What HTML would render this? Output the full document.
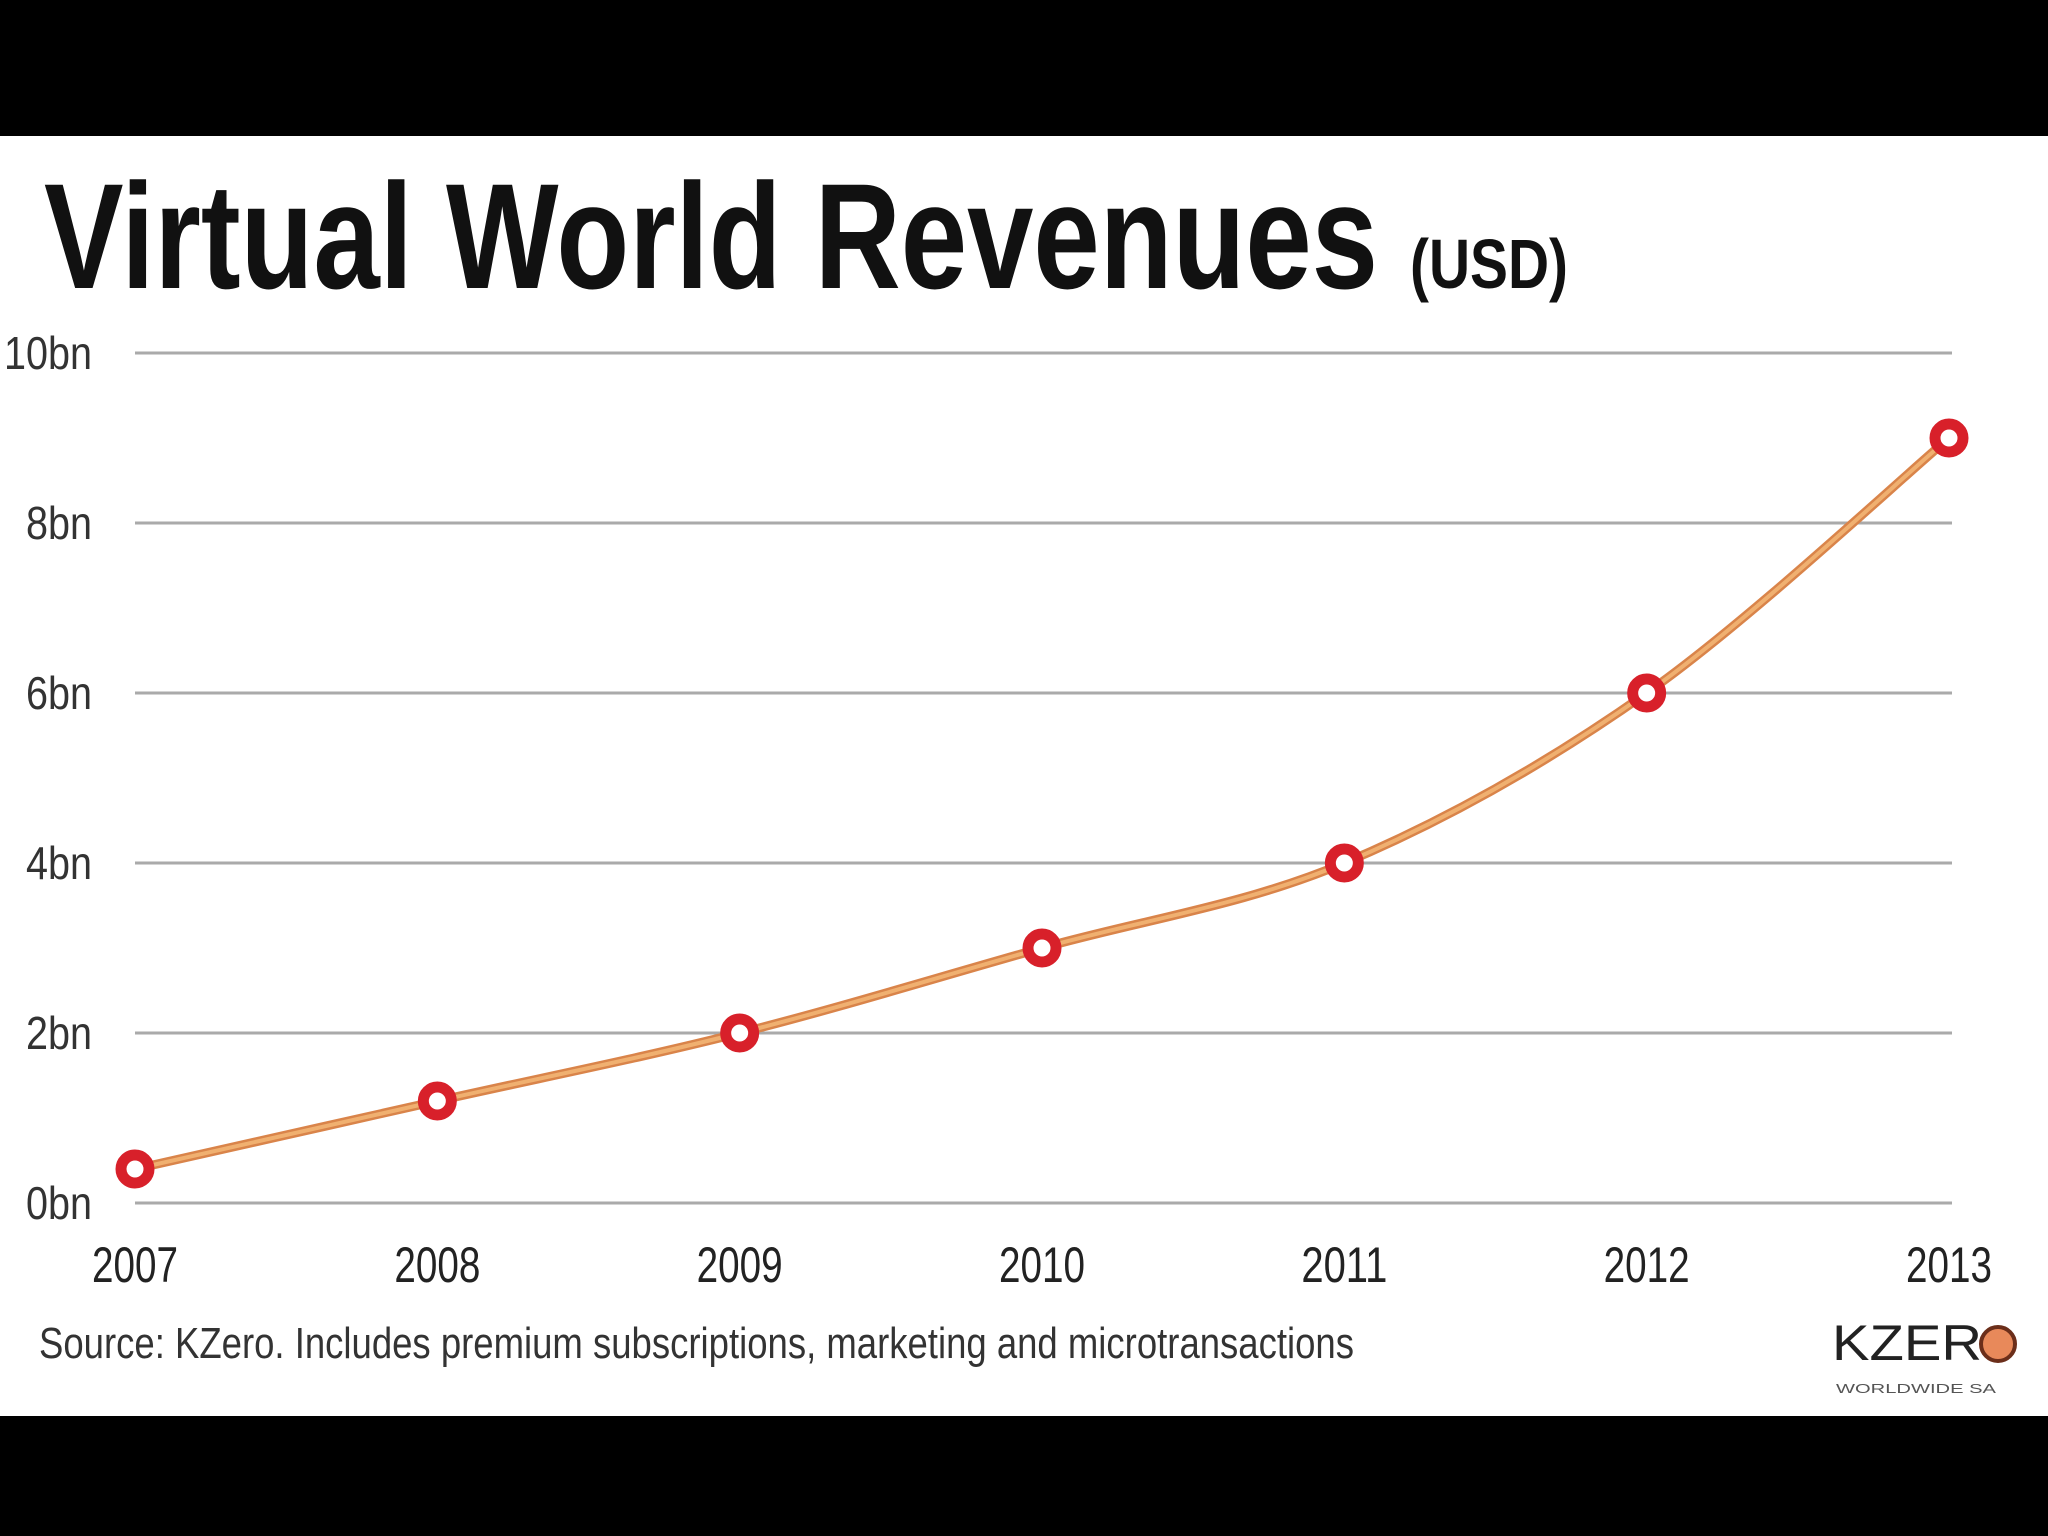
<!DOCTYPE html>
<html><head><meta charset="utf-8"><style>
html,body{margin:0;padding:0;background:#000;}
svg{display:block;}
text{font-family:"Liberation Sans Narrow","Liberation Sans",sans-serif;}
</style></head><body>
<svg id="chart" width="2048" height="1536" viewBox="0 0 2048 1536" xmlns="http://www.w3.org/2000/svg">
<rect x="0" y="0" width="2048" height="136" fill="#000"/>
<rect x="0" y="136" width="2048" height="1280" fill="#fff"/>
<rect x="0" y="1416" width="2048" height="120" fill="#000"/>
<text x="44" y="288" font-size="150" font-weight="bold" fill="#111" textLength="1334" lengthAdjust="spacingAndGlyphs">Virtual World Revenues</text>
<text x="1410" y="288" font-size="70" font-weight="bold" fill="#111" textLength="158" lengthAdjust="spacingAndGlyphs">(USD)</text>
<g id="grid"></g>
<g id="ylabels"></g>
<g id="xlabels"></g>
<path id="line-edge" fill="none" stroke="#d9844a" stroke-width="9" stroke-linejoin="round"/>
<path id="line" fill="none" stroke="#f0b070" stroke-width="4" stroke-linejoin="round"/>
<g id="points"></g>
<text x="39" y="1358" font-size="44" fill="#333" textLength="1315" lengthAdjust="spacingAndGlyphs">Source: KZero. Includes premium subscriptions, marketing and microtransactions</text>
<g>
<text x="1832" y="1360" font-size="50" fill="#222" textLength="150" lengthAdjust="spacingAndGlyphs">KZER</text>
<circle cx="1998" cy="1344" r="17" fill="#e8895a" stroke="#6b2e1a" stroke-width="4"/>
<text x="1836" y="1393" font-size="13" fill="#555" textLength="160" lengthAdjust="spacingAndGlyphs">WORLDWIDE SA</text>
</g>
</svg>
<script>
const years = ['2007','2008','2009','2010','2011','2012','2013'];
const revenue = [0.4, 1.2, 2.0, 3.0, 4.0, 6.0, 9.0];
const yTicks = [0, 2, 4, 6, 8, 10];
const yTickLabels = ['0bn','2bn','4bn','6bn','8bn','10bn'];

const NS = 'http://www.w3.org/2000/svg';
const x0 = 135, x1 = 1949, y0 = 1203, y1 = 353;
function xScale(i){ return x0 + (x1 - x0) * i / (years.length - 1); }
function yScale(v){ return y0 - (y0 - y1) * v / 10; }

const grid = document.getElementById('grid');
const yl = document.getElementById('ylabels');
yTicks.forEach((t, k) => {
  const l = document.createElementNS(NS, 'line');
  
  
  l.setAttribute('x1', 135); l.setAttribute('x2', 1952);
  l.setAttribute('y1', yScale(t)); l.setAttribute('y2', yScale(t));
  l.setAttribute('stroke', '#aaa'); l.setAttribute('stroke-width', '3');
  grid.appendChild(l);
  const tx = document.createElementNS(NS, 'text');
  
  
  tx.setAttribute('x', 92); tx.setAttribute('y', yScale(t) + 16);
  tx.setAttribute('text-anchor', 'end');
  tx.setAttribute('font-size', '46'); tx.setAttribute('fill', '#333');
  tx.setAttribute('textLength', yTickLabels[k].length * 22);
  tx.setAttribute('lengthAdjust', 'spacingAndGlyphs');
  tx.textContent = yTickLabels[k];
  yl.appendChild(tx);
});

const xl = document.getElementById('xlabels');
years.forEach((y, i) => {
  const tx = document.createElementNS(NS, 'text');
  
  
  tx.setAttribute('x', xScale(i)); tx.setAttribute('y', 1282);
  tx.setAttribute('text-anchor', 'middle');
  tx.setAttribute('font-size', '50'); tx.setAttribute('fill', '#222');
  tx.setAttribute('textLength', 86);
  tx.setAttribute('lengthAdjust', 'spacingAndGlyphs');
  tx.textContent = y;
  xl.appendChild(tx);
});

const pts = revenue.map((v, i) => [xScale(i), yScale(v)]);
let d = 'M' + pts[0][0] + ',' + pts[0][1];
for (let i = 0; i < pts.length - 1; i++) {
  const p0 = pts[Math.max(0, i - 1)], p1 = pts[i], p2 = pts[i + 1], p3 = pts[Math.min(pts.length - 1, i + 2)];
  const c1 = [p1[0] + (p2[0] - p0[0]) / 6, p1[1] + (p2[1] - p0[1]) / 6];
  const c2 = [p2[0] - (p3[0] - p1[0]) / 6, p2[1] - (p3[1] - p1[1]) / 6];
  d += ' C' + c1 + ' ' + c2 + ' ' + p2;
}
document.getElementById('line').setAttribute('d', d);
document.getElementById('line-edge').setAttribute('d', d);

const pg = document.getElementById('points');
pts.forEach((p, i) => {
  const c = document.createElementNS(NS, 'circle');
  
  
  c.setAttribute('cx', p[0]); c.setAttribute('cy', p[1]);
  c.setAttribute('r', 14);
  c.setAttribute('fill', '#fff'); c.setAttribute('stroke', '#d8202a'); c.setAttribute('stroke-width', '11');
  pg.appendChild(c);
});
</script>
</body></html>
